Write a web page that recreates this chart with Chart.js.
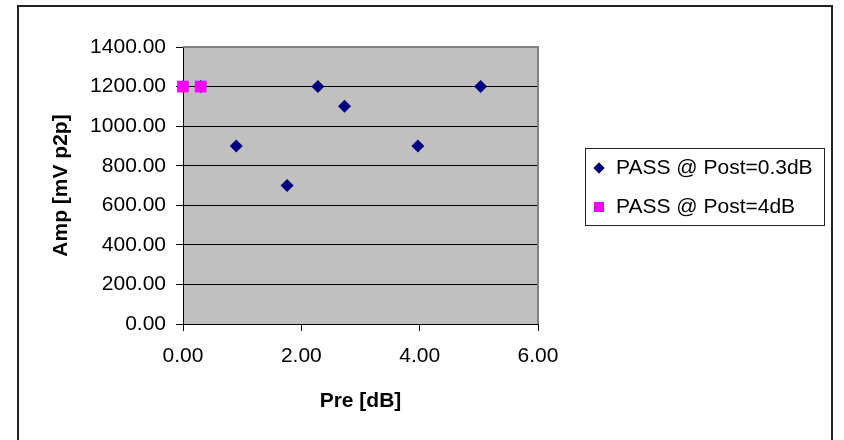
<!DOCTYPE html>
<html>
<head>
<meta charset="utf-8">
<script src="https://cdn.jsdelivr.net/npm/chart.js@4/dist/chart.umd.min.js"></script>
<style>
  body { margin: 0; background: #fff; }
  #wrap { width: 844px; height: 440px; }
</style>
</head>
<body>
<div id="wrap"><canvas id="amp-chart" width="844" height="440"></canvas></div>
<script>
// Pre-emphasis sweep results
const preDbPost03 = [0, 0.3, 0.9, 1.76, 2.28, 2.73, 3.97, 5.03];
const ampPost03 = [1200, 1200, 900, 700, 1200, 1100, 900, 1200];
const preDbPost4 = [0, 0.3];
const ampPost4 = [1200, 1200];

const seriesNames = ['PASS @ Post=0.3dB', 'PASS @ Post=4dB'];
const xTitle = 'Pre [dB]';
const yTitle = 'Amp [mV p2p]';

const FONT = '"Liberation Sans", Arial, sans-serif';

function toPoints(xs, ys) {
    return xs.map((x, i) => ({ x: x, y: ys[i] }));
}

// gray plot area, outer frame and the boxed legend
const framePlugin = {
    id: 'frame',
    beforeDraw(chart) {
        const { ctx, chartArea: a } = chart;
        ctx.save();
        ctx.fillStyle = '#C0C0C0';
        ctx.fillRect(a.left, a.top, a.right - a.left, a.bottom - a.top);
        ctx.strokeStyle = '#222';
        ctx.lineWidth = 2;
        ctx.strokeRect(18, 6, 814, 460);
        ctx.restore();
    },
    beforeDatasetsDraw(chart) {
        const { ctx, chartArea: a } = chart;
        ctx.save();
        ctx.strokeStyle = '#808080';
        ctx.lineWidth = 2;
        ctx.beginPath();
        ctx.moveTo(a.left, a.top);
        ctx.lineTo(a.right, a.top);
        ctx.lineTo(a.right, a.bottom);
        ctx.stroke();
        ctx.restore();
    },
    afterDraw(chart) {
        const ctx = chart.ctx;
        ctx.save();
        ctx.strokeStyle = '#222';
        ctx.lineWidth = 1;
        ctx.strokeRect(585.5, 148.5, 239, 77);
        ctx.font = '21px ' + FONT;
        ctx.textBaseline = 'middle';
        ctx.fillStyle = '#000';
        chart.data.datasets.forEach((ds, i) => {
            const y = 168 + i * 39;
            Chart.helpers.drawPoint(ctx, {
                pointStyle: ds.pointStyle,
                radius: ds.pointStyle === 'rectRot' ? 5.5 : 7,
                borderWidth: 0
            }, 599, y);
            ctx.fillStyle = ds.backgroundColor;
            ctx.fill();
            ctx.fillStyle = '#000';
            ctx.fillText(ds.label, 616, y);
        });
        ctx.restore();
    }
};

new Chart(document.getElementById('amp-chart'), {
    type: 'scatter',
    data: {
        datasets: [{
            label: seriesNames[0],
            data: toPoints(preDbPost03, ampPost03),
            pointStyle: 'rectRot',
            pointRadius: 6.5,
            backgroundColor: '#000080',
            borderColor: '#000080',
            borderWidth: 0,
            clip: false,
            order: 1
        },
        {
            label: seriesNames[1],
            data: toPoints(preDbPost4, ampPost4),
            pointStyle: 'rect',
            pointRadius: 8.3,
            backgroundColor: '#FF00FF',
            borderColor: '#FF00FF',
            borderWidth: 0,
            clip: false,
            order: 0 // magenta squares sit on top
        }]
    },
    options: {
        responsive: false,
        animation: false,
        layout: { padding: { left: 0, top: 47, right: 306, bottom: 0 } },
        plugins: {
            legend: { display: false },
            tooltip: { enabled: false }
        },
        scales: {
            x: {
                type: 'linear',
                min: 0,
                max: 6,
                afterFit: (scale) => { scale.height = 116; },
                ticks: {
                    stepSize: 2,
                    padding: 13,
                    color: '#000',
                    font: { family: FONT, size: 21 },
                    callback: (v) => v.toFixed(2)
                },
                grid: { drawOnChartArea: false, tickLength: 7, tickColor: '#000' },
                border: { color: '#000', width: 1 },
                title: {
                    display: true,
                    text: xTitle,
                    color: '#000',
                    font: { family: FONT, size: 21, weight: 'bold' },
                    padding: { top: 0, bottom: 26 }
                }
            },
            y: {
                min: 0,
                max: 1400,
                afterFit: (scale) => { scale.width = 183; },
                ticks: {
                    stepSize: 200,
                    padding: 10,
                    color: '#000',
                    font: { family: FONT, size: 21 },
                    callback: (v) => v.toFixed(2)
                },
                grid: {
                    color: (c) => c.tick && c.tick.value === 1400 ? 'rgba(0,0,0,0)' : '#000',
                    tickColor: '#000',
                    tickLength: 7,
                    lineWidth: 1
                },
                border: { color: '#000', width: 1 },
                title: {
                    display: true,
                    text: yTitle,
                    color: '#000',
                    font: { family: FONT, size: 21, weight: 'bold' },
                    padding: { top: 49, bottom: 0 }
                }
            }
        }
    },
    plugins: [framePlugin]
});
</script>
</body>
</html>
